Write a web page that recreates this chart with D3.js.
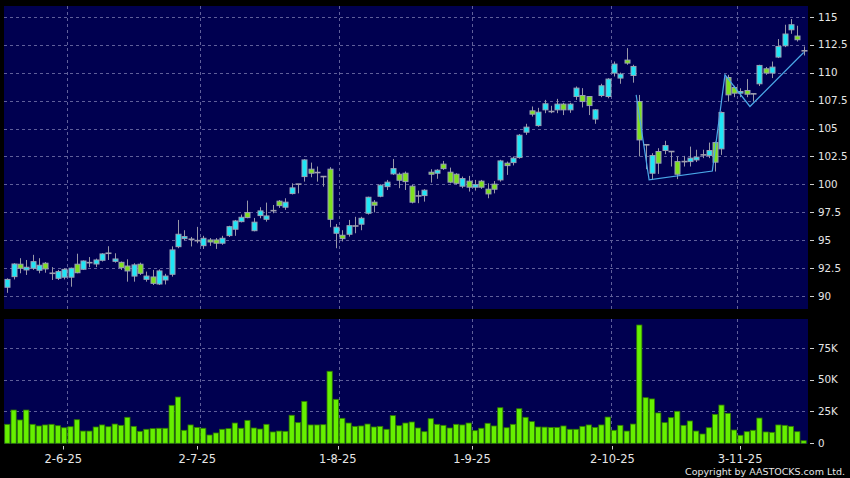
<!DOCTYPE html>
<html><head><meta charset="utf-8">
<script src="https://cdn.jsdelivr.net/npm/d3@7"></script>
<style>html,body{margin:0;padding:0;background:#000;}svg{display:block;}</style>
</head><body>
<script>
// ---- data ----
const open  = [90.8,91.75,92.86,92.35,92.5,92.32,92.95,92.05,91.6,91.7,91.7,92.86,92.41,93.0,92.88,93.21,93.84,93.12,93.03,92.7,91.8,92.86,91.51,91.72,91.09,91.45,91.96,94.43,95.15,95.09,94.97,94.52,95.03,95.03,94.74,95.42,95.99,96.67,97.48,95.86,97.21,96.88,97.65,98.5,97.96,99.18,100.02,100.7,101.36,101.06,100.7,101.36,95.63,95.45,95.54,96.28,96.44,97.42,98.41,98.94,99.8,100.94,100.91,101.0,99.84,98.97,99.0,101.09,101.0,101.81,101.09,100.91,99.84,100.29,99.75,100.29,99.57,100.02,100.4,101.9,101.95,102.4,104.67,106.58,105.26,106.67,106.52,106.67,107.18,106.67,107.86,107.95,107.86,105.84,107.95,107.86,109.96,109.51,111.12,109.74,107.41,103.54,101.0,102.94,103.03,102.94,102.04,102.04,102.04,102.19,102.64,102.58,103.74,103.18,109.56,108.67,108.16,108.4,108.1,109.0,110.34,109.96,111.39,112.4,113.83,113.27,111.95];
const high  = [91.6,92.95,93.4,93.24,93.7,93.4,93.05,92.6,92.35,92.5,92.55,93.8,93.2,93.5,93.36,93.85,94.47,93.84,93.1,93.3,92.95,93.0,92.2,92.35,92.4,92.0,94.46,96.82,95.9,95.3,96.2,95.4,95.2,95.2,95.4,96.3,96.82,97.3,98.55,97.0,97.96,98.37,98.16,98.6,98.76,100.1,100.05,102.26,101.95,101.6,100.72,101.54,96.46,95.9,96.82,97.1,97.1,98.9,98.6,100.0,100.4,102.28,101.06,101.15,99.95,99.44,99.57,101.36,101.36,102.1,101.5,101.0,100.7,100.76,100.4,100.4,100.1,100.3,102.2,102.04,102.5,104.5,105.42,106.97,106.85,107.56,107.03,107.65,107.3,107.3,108.76,108.61,107.9,106.73,109.0,109.5,110.99,110.0,112.19,110.7,108.0,103.6,102.79,103.24,103.9,102.98,102.49,102.55,103.38,103.1,103.1,103.74,103.83,106.52,109.8,108.82,108.6,109.42,108.13,110.7,110.5,110.99,113.0,114.28,114.79,114.19,112.34];
const low   = [90.3,91.5,92.05,91.9,92.35,92.05,92.1,91.45,91.45,91.5,90.85,92.05,92.35,92.6,92.6,93.1,93.24,93.0,92.35,91.3,91.3,91.9,91.3,91.0,91.0,91.05,91.75,94.29,95.0,94.45,94.74,94.23,94.5,94.23,94.6,95.3,95.4,96.6,96.97,95.8,96.97,96.67,97.42,97.9,97.72,99.1,99.2,100.25,100.64,100.25,99.8,96.17,94.29,94.9,95.33,95.63,95.9,97.3,97.5,98.85,99.5,100.85,99.66,99.5,98.3,98.32,98.46,100.16,100.5,101.3,100.1,100.0,99.66,99.36,99.45,99.6,98.76,99.2,100.25,100.85,101.7,102.3,104.43,106.07,105.15,106.37,106.37,106.37,106.2,106.4,107.56,106.88,106.2,105.42,107.8,107.7,109.65,109.0,110.7,109.1,102.5,101.36,100.4,100.94,102.7,101.6,100.47,101.6,101.6,102.0,102.35,102.35,101.15,102.64,107.41,107.8,107.8,107.8,107.4,108.8,109.8,109.51,111.3,112.28,113.47,112.78,111.53];
const close = [91.5,92.88,92.5,92.59,93.09,92.77,92.44,92.05,92.2,92.4,92.5,92.1,93.15,93.0,93.24,93.78,93.84,93.33,92.55,92.26,92.8,92.05,91.8,91.15,92.26,91.8,94.14,95.54,95.33,95.09,94.97,95.18,94.85,94.74,95.18,96.22,96.73,97.06,97.03,96.62,97.63,97.18,97.65,98.1,98.41,99.69,100.02,102.19,101.0,101.06,100.7,96.88,96.17,95.15,96.31,96.28,96.97,98.85,98.14,99.93,100.2,101.41,100.37,100.25,98.41,98.97,99.48,100.91,101.27,101.41,100.2,100.1,100.52,99.75,99.98,99.75,99.15,99.57,102.1,101.68,102.35,104.4,105.12,106.28,106.46,107.21,106.52,107.18,106.67,107.18,108.61,107.41,107.05,106.67,108.82,109.42,110.76,109.87,110.85,110.55,103.98,103.54,102.58,101.9,103.47,102.94,100.91,102.04,102.35,102.44,102.64,103.03,101.99,106.43,108.01,108.16,108.31,108.07,108.1,110.64,109.96,110.49,112.34,113.45,114.28,112.94,111.95];
const volume = [14900,26100,18300,26100,14900,13600,14400,14900,13800,12200,13000,18500,9600,9600,12800,14400,13000,15100,14100,20400,13300,9400,11000,11500,11800,11800,29800,36300,10200,14400,12500,11800,6500,8100,11000,11500,15900,11800,18000,12000,11200,14900,8900,9600,9400,22000,16200,32900,14400,14400,14600,56500,34500,19600,15900,13300,13600,15100,12800,13300,11000,21700,13800,15900,16700,12000,9100,19300,14900,14100,12000,14900,14400,15900,9900,11800,15700,13600,27900,12200,14900,27100,20400,17000,12800,12700,12500,12500,13600,11000,11000,13300,14400,12500,14400,20600,10200,14100,9600,15100,92800,35800,34800,23800,16200,20100,25100,14100,17500,9600,7300,12200,22700,30000,23500,10400,6300,9100,10200,19800,8900,8600,14400,14100,13300,9100,2000];
// month starts (bar index) and their labels
const monthIndex = [10,31,53,74,96,116];
const monthLabels = ["2-6-25","2-7-25","1-8-25","1-9-25","2-10-25","3-11-25"];
// price / volume axis ticks
const priceTicks = [90,92.5,95,97.5,100,102.5,105,107.5,110,112.5,115];
const volTicks = [0,25000,50000,75000];
const volTickLabels = ["0","25K","50K","75K"];
// trend line overlay: [bar position, price]
const trendX = [99.5,101.55,111.55,113.55,117.5,126.0];
const trendY = [108.0,100.4,101.2,109.8,106.97,111.8];

const N = close.length;
const W = 850, H = 478;
const L = 4, R = 808;
const mainTop = 6, mainBot = 309, volTop = 319, volBot = 444;

const svg = d3.select("body").append("svg").attr("width", W).attr("height", H)
  .style("background", "#000");

const x = d3.scaleBand().domain(d3.range(N)).range([4.14, 806.8]).paddingInner(0);
const step = x.step();
const xc = i => x(Math.floor(i)) + step * (0.5 + (i - Math.floor(i)));
const xl = d3.scaleLinear().domain([0, N]).range([-0.5, 810.3]);   // label axis
const y = d3.scaleLinear().domain([90, 115]).range([296.2, 16.7]);
const yv = d3.scaleLinear().domain([0, 75000]).range([443.3, 347.7]);

const bg = "#000050", grid = "#5f5f9a";
svg.append("rect").attr("x", L).attr("y", mainTop).attr("width", R - L).attr("height", mainBot - mainTop).attr("fill", bg);
svg.append("rect").attr("x", L).attr("y", volTop).attr("width", R - L).attr("height", volBot - volTop).attr("fill", bg);

const gGrid = svg.append("g").attr("stroke", grid).attr("stroke-dasharray", "3,3").attr("stroke-width", 1);
priceTicks.forEach(t => {
  const yy = Math.round(y(t)) + 0.5;
  gGrid.append("line").attr("x1", L).attr("x2", R).attr("y1", yy).attr("y2", yy);
});
volTicks.slice(1).forEach(t => {
  const yy = Math.round(yv(t)) + 0.5;
  gGrid.append("line").attr("x1", L).attr("x2", R).attr("y1", yy).attr("y2", yy);
});
monthIndex.forEach(i => {
  const xx = Math.round(x(i)) + 0.5;
  gGrid.append("line").attr("x1", xx).attr("x2", xx).attr("y1", mainTop).attr("y2", mainBot);
  gGrid.append("line").attr("x1", xx).attr("x2", xx).attr("y1", volTop).attr("y2", volBot);
});

// candles
const bw = 5;
const gC = svg.append("g");
d3.range(N).forEach(i => {
  const cx = Math.round(xc(i)) + 0.5;
  const o = open[i], c = close[i];
  gC.append("line").attr("x1", cx).attr("x2", cx).attr("y1", y(high[i])).attr("y2", y(low[i]))
    .attr("stroke", "#9898a8").attr("stroke-width", 1);
  if (Math.abs(o - c) < 0.001) {
    gC.append("line").attr("x1", cx - 3).attr("x2", cx + 3).attr("y1", y(c)).attr("y2", y(c))
      .attr("stroke", "#a0a0b0").attr("stroke-width", 1.6);
  } else {
    const top = y(Math.max(o, c)), bot = y(Math.min(o, c));
    gC.append("rect").attr("x", cx - bw / 2).attr("y", top).attr("width", bw).attr("height", Math.max(1.5, bot - top))
      .attr("fill", c > o ? "#1ee6f6" : "#7ee01e").attr("stroke", "#9aa2b6").attr("stroke-width", 1);
  }
});

// trend line
svg.append("path")
  .datum(d3.range(trendX.length))
  .attr("d", d3.line().x(k => xc(trendX[k])).y(k => y(trendY[k])))
  .attr("fill", "none").attr("stroke", "#4aa8e8").attr("stroke-width", 1.2);

// volume bars
const gV = svg.append("g");
d3.range(N).forEach(i => {
  const cx = xc(i);
  const top = yv(volume[i]);
  gV.append("rect").attr("x", cx - 2.6).attr("y", top).attr("width", 5.2).attr("height", yv(0) - top)
    .attr("fill", "#66f000").attr("stroke", "#2f7a00").attr("stroke-width", 0.8);
});

// right axes
const txt = "#e6e6e6";
const font = "'DejaVu Sans', sans-serif";
priceTicks.forEach(t => {
  const yy = Math.round(y(t)) + 0.5;
  svg.append("line").attr("x1", 810).attr("x2", 814).attr("y1", yy).attr("y2", yy).attr("stroke", "#cfcfcf");
  svg.append("text").attr("x", 818).attr("y", y(t) + 3.8).attr("fill", txt)
    .attr("font-family", font).attr("font-size", 10.3).text(String(t));
});
volTicks.forEach((t, k) => {
  const yy = Math.round(yv(t)) + 0.5;
  svg.append("line").attr("x1", 810).attr("x2", 814).attr("y1", yy).attr("y2", yy).attr("stroke", "#cfcfcf");
  svg.append("text").attr("x", 818).attr("y", yv(t) + 3.8).attr("fill", txt)
    .attr("font-family", font).attr("font-size", 10.3).text(volTickLabels[k]);
});

// date axis
monthIndex.forEach((i, k) => {
  const xx = Math.round(xl(i)) + 0.5;
  svg.append("line").attr("x1", xx).attr("x2", xx).attr("y1", 446).attr("y2", 449.5).attr("stroke", "#cfcfcf");
  svg.append("text").attr("x", xl(i)).attr("y", 462.5).attr("text-anchor", "middle").attr("fill", txt)
    .attr("font-family", font).attr("font-size", 11.5).text(monthLabels[k]);
});

svg.append("text").attr("x", 845).attr("y", 475).attr("text-anchor", "end").attr("fill", txt)
  .attr("font-family", font).attr("font-size", 9.5).text("Copyright by AASTOCKS.com Ltd.");
</script>
</body></html>
